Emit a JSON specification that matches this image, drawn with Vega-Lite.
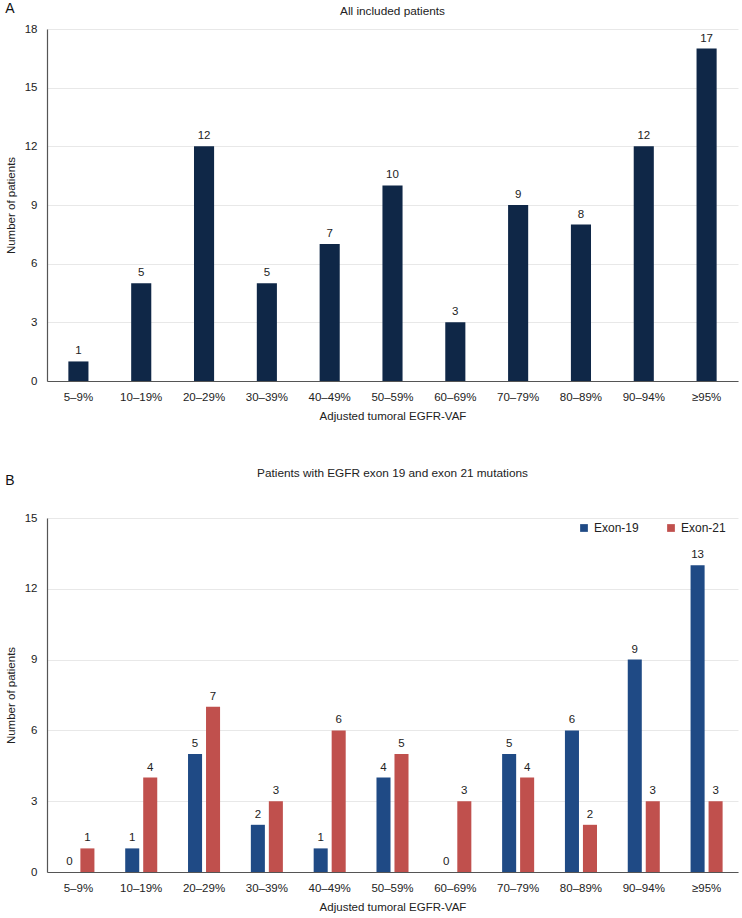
{
  "$schema": "https://vega.github.io/schema/vega-lite/v6.json",
  "padding": {"left": 5, "top": 2, "right": 4, "bottom": 2},
  "spacing": 46,
  "resolve": {"scale": {"color": "independent"}, "legend": {"color": "independent"}},
  "config": {
    "font": "Liberation Sans",
    "view": {"stroke": null},
    "axis": {"labelFontSize": 11.5, "titleFontSize": 11.5, "titleFontWeight": "normal", "labelColor": "#222", "titleColor": "#222", "ticks": false, "gridColor": "#e8e8e8"},
    "title": {"fontSize": 11.8, "fontWeight": "normal", "color": "#222"}
  },
  "datasets": {
    "all": [
      {"range": "5–9%", "count": 1},
      {"range": "10–19%", "count": 5},
      {"range": "20–29%", "count": 12},
      {"range": "30–39%", "count": 5},
      {"range": "40–49%", "count": 7},
      {"range": "50–59%", "count": 10},
      {"range": "60–69%", "count": 3},
      {"range": "70–79%", "count": 9},
      {"range": "80–89%", "count": 8},
      {"range": "90–94%", "count": 12},
      {"range": "≥95%", "count": 17}
    ],
    "exon": [
      {"range": "5–9%", "exon": "Exon-19", "count": 0},
      {"range": "5–9%", "exon": "Exon-21", "count": 1},
      {"range": "10–19%", "exon": "Exon-19", "count": 1},
      {"range": "10–19%", "exon": "Exon-21", "count": 4},
      {"range": "20–29%", "exon": "Exon-19", "count": 5},
      {"range": "20–29%", "exon": "Exon-21", "count": 7},
      {"range": "30–39%", "exon": "Exon-19", "count": 2},
      {"range": "30–39%", "exon": "Exon-21", "count": 3},
      {"range": "40–49%", "exon": "Exon-19", "count": 1},
      {"range": "40–49%", "exon": "Exon-21", "count": 6},
      {"range": "50–59%", "exon": "Exon-19", "count": 4},
      {"range": "50–59%", "exon": "Exon-21", "count": 5},
      {"range": "60–69%", "exon": "Exon-19", "count": 0},
      {"range": "60–69%", "exon": "Exon-21", "count": 3},
      {"range": "70–79%", "exon": "Exon-19", "count": 5},
      {"range": "70–79%", "exon": "Exon-21", "count": 4},
      {"range": "80–89%", "exon": "Exon-19", "count": 6},
      {"range": "80–89%", "exon": "Exon-21", "count": 2},
      {"range": "90–94%", "exon": "Exon-19", "count": 9},
      {"range": "90–94%", "exon": "Exon-21", "count": 3},
      {"range": "≥95%", "exon": "Exon-19", "count": 13},
      {"range": "≥95%", "exon": "Exon-21", "count": 3}
    ]
  },
  "vconcat": [
    {
      "title": {"text": "A", "anchor": "start", "frame": "bounds", "fontSize": 14, "offset": -10, "color": "#111"},
      "vconcat": [
        {
          "width": 691,
          "height": 352,
          "title": {"text": "All included patients", "offset": 5},
          "data": {"name": "all"},
          "encoding": {
            "x": {
              "field": "range", "type": "nominal", "sort": null,
              "scale": {"paddingInner": 0.68, "paddingOuter": 0.34},
              "axis": {"labelAngle": 0, "title": "Adjusted tumoral EGFR-VAF", "labelPadding": 10, "titlePadding": 8, "domainColor": "#555", "domainWidth": 1.2}
            },
            "y": {
              "field": "count", "type": "quantitative",
              "scale": {"domain": [0, 18], "nice": false},
              "axis": {"values": [0, 3, 6, 9, 12, 15, 18], "title": "Number of patients", "labelPadding": 10, "titlePadding": 8, "domainColor": "#555", "domainWidth": 1.2}
            }
          },
          "layer": [
            {"mark": {"type": "bar", "color": "#0f2747"}},
            {"mark": {"type": "text", "baseline": "bottom", "dy": -5, "fontSize": 11.5, "color": "#222"}, "encoding": {"text": {"field": "count", "type": "quantitative"}}}
          ]
        }
      ]
    },
    {
      "title": {"text": "B", "anchor": "start", "frame": "bounds", "fontSize": 14, "offset": -20, "color": "#111"},
      "resolve": {"scale": {"color": "independent"}, "legend": {"color": "independent"}},
      "vconcat": [
        {
          "width": 691,
          "height": 354,
          "title": {"text": "Patients with EGFR exon 19 and exon 21 mutations", "offset": 32},
          "data": {"name": "exon"},
          "encoding": {
            "x": {
              "field": "range", "type": "nominal", "sort": null,
              "scale": {"paddingInner": 0.49, "paddingOuter": 0.245},
              "axis": {"labelAngle": 0, "title": "Adjusted tumoral EGFR-VAF", "labelPadding": 10, "titlePadding": 8, "domainColor": "#555", "domainWidth": 1.2}
            },
            "xOffset": {"field": "exon", "type": "nominal", "scale": {"paddingInner": 0.22}},
            "y": {
              "field": "count", "type": "quantitative",
              "scale": {"domain": [0, 15], "nice": false},
              "axis": {"values": [0, 3, 6, 9, 12, 15], "title": "Number of patients", "labelPadding": 10, "titlePadding": 8, "domainColor": "#555", "domainWidth": 1.2}
            }
          },
          "layer": [
            {
              "mark": {"type": "bar"},
              "encoding": {
                "color": {
                  "field": "exon", "type": "nominal",
                  "scale": {"domain": ["Exon-19", "Exon-21"], "range": ["#1f4a85", "#c0504d"]},
                  "legend": {"title": null, "orient": "none", "direction": "horizontal", "legendX": 531, "legendY": 4, "symbolType": "square", "symbolSize": 60, "labelFontSize": 12, "labelColor": "#222", "columnPadding": 26, "symbolOpacity": 1}
                }
              }
            },
            {"mark": {"type": "text", "baseline": "bottom", "dy": -5, "fontSize": 11.5, "color": "#222"}, "encoding": {"text": {"field": "count", "type": "quantitative"}}}
          ]
        }
      ]
    }
  ]
}
